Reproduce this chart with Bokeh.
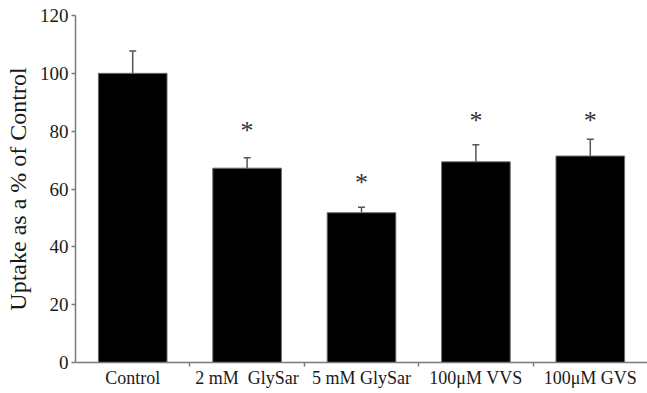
from bokeh.plotting import figure
from bokeh.models import Range1d, FixedTicker, Whisker, ColumnDataSource, TeeHead
from bokeh.core.properties import value
from bokeh.embed import file_html
from bokeh.resources import INLINE

categories = ["Control", "2 mM\u00a0 GlySar", "5 mM GlySar", "100\u03bcM VVS", "100\u03bcM GVS"]
uptake = [100, 67.2, 51.8, 69.4, 71.4]
errors = [7.7, 3.6, 1.9, 5.9, 5.8]
star_levels = [None, 80.3, 62.4, 83.7, 83.7]
y_ticks = [0, 20, 40, 60, 80, 100, 120]

FONT = "Liberation Serif"
AXIS_COLOR = "#7a7a7a"
TEXT_COLOR = "#1a1a1a"

xs = [i + 0.5 for i in range(len(categories))]
upper = [v + e for v, e in zip(uptake, errors)]

src = ColumnDataSource(dict(x=xs, top=uptake, upper=upper))

p = figure(width=647, height=393, output_backend="svg", toolbar_location=None,
           x_range=Range1d(0, len(categories)), y_range=Range1d(0, 120),
           min_border_left=75, min_border_right=0, min_border_top=15, min_border_bottom=31)
p.outline_line_color = None
p.xgrid.visible = False
p.ygrid.visible = False
p.background_fill_color = "white"

p.vbar(x="x", top="top", bottom=0, width=0.6, source=src,
       fill_color="black", line_color="#6e6e6e", line_width=1)

w = Whisker(base="x", upper="upper", lower="top", source=src,
            line_color="#555555", line_width=1.5, lower_head=None,
            upper_head=TeeHead(size=7, line_color="#555555", line_width=1.5))
p.add_layout(w)

sx = [x for x, s in zip(xs, star_levels) if s is not None]
sy = [s for s in star_levels if s is not None]
p.text(x=sx, y=sy, text=["*"] * len(sx), text_align="center", text_baseline="middle",
       text_font=value(FONT), text_font_size="26px", text_color="#333333")

# y axis
ya = p.yaxis[0]
ya.ticker = FixedTicker(ticks=y_ticks)
ya.axis_label = "Uptake as a % of Control"
ya.axis_label_text_font = FONT
ya.axis_label_text_font_style = "normal"
ya.axis_label_text_font_size = "24px"
ya.axis_label_text_color = TEXT_COLOR
ya.axis_label_standoff = 6
ya.major_label_text_font = FONT
ya.major_label_text_font_size = "19px"
ya.major_label_text_color = TEXT_COLOR
ya.major_label_standoff = 3
ya.axis_line_color = AXIS_COLOR
ya.axis_line_width = 1.5
ya.major_tick_line_color = AXIS_COLOR
ya.major_tick_line_width = 1.5
ya.major_tick_in = 0
ya.major_tick_out = 4
ya.minor_tick_line_color = None

# x axis: labels at centres, ticks at boundaries
xa = p.xaxis[0]
xa.ticker = FixedTicker(ticks=xs, minor_ticks=[i for i in range(1, len(categories))])
xa.major_label_overrides = {x: c for x, c in zip(xs, categories)}
xa.major_label_text_font = FONT
xa.major_label_text_font_size = "18px"
xa.major_label_text_color = TEXT_COLOR
xa.major_label_standoff = 1
xa.axis_line_color = AXIS_COLOR
xa.axis_line_width = 1.5
xa.major_tick_line_color = None
xa.major_tick_in = 0
xa.major_tick_out = 4
xa.minor_tick_line_color = AXIS_COLOR
xa.minor_tick_line_width = 1.5
xa.minor_tick_in = 0
xa.minor_tick_out = 4

open("out.html", "w").write(file_html(p, INLINE))
